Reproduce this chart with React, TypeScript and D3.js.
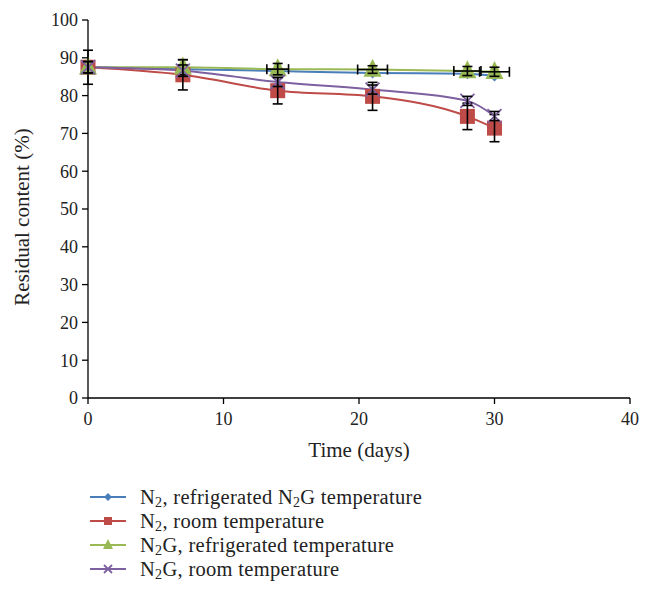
import React from "react";
import * as d3 from "d3";

const days = [0, 7, 14, 21, 28, 30];
const n2Refrig = [87.5, 87.0, 86.5, 86.0, 85.8, 85.2];
const n2Room = [87.5, 85.5, 81.3, 79.8, 74.5, 71.4];
const n2gRefrig = [87.5, 87.5, 87.0, 86.9, 86.5, 86.3];
const n2gRoom = [87.5, 86.6, 83.6, 81.6, 78.6, 74.6];

const n2RefrigErr = [0.5, 0.5, 0.5, 0.5, 0.5, 0.5];
const n2RoomErr = [4.5, 4.0, 3.5, 3.7, 3.5, 3.6];
const n2gRefrigErr = [1.5, 2.0, 1.5, 1.0, 1.2, 1.2];
const n2gRoomErr = [1.5, 1.5, 1.2, 1.2, 1.2, 1.2];
const n2gRefrigXErr = [0, 0, 0.8, 1.1, 1.0, 1.1];

const xTicks = [0, 10, 20, 30, 40];
const yTicks = [0, 10, 20, 30, 40, 50, 60, 70, 80, 90, 100];

const W = 653;
const H = 608;
const font = "'Liberation Serif', 'DejaVu Serif', serif";

type Series = {
  name: string;
  label: React.ReactNode;
  values: number[];
  err: number[];
  xerr?: number[];
  color: string;
  marker: "diamond" | "square" | "triangle" | "x";
};

const sub = (t: string) => (
  <tspan baselineShift="-3" fontSize="14">{t}</tspan>
);

const series: Series[] = [
  {
    name: "n2r",
    label: (
      <>
        N{sub("2")}
        <tspan>, refrigerated N</tspan>
        {sub("2")}
        <tspan>G temperature</tspan>
      </>
    ),
    values: n2Refrig,
    err: n2RefrigErr,
    color: "#4a7ebb",
    marker: "diamond",
  },
  {
    name: "n2room",
    label: (
      <>
        N{sub("2")}
        <tspan>, room temperature</tspan>
      </>
    ),
    values: n2Room,
    err: n2RoomErr,
    color: "#be4b48",
    marker: "square",
  },
  {
    name: "n2gr",
    label: (
      <>
        N{sub("2")}
        <tspan>G, refrigerated temperature</tspan>
      </>
    ),
    values: n2gRefrig,
    err: n2gRefrigErr,
    xerr: n2gRefrigXErr,
    color: "#98b954",
    marker: "triangle",
  },
  {
    name: "n2groom",
    label: (
      <>
        N{sub("2")}
        <tspan>G, room temperature</tspan>
      </>
    ),
    values: n2gRoom,
    err: n2gRoomErr,
    color: "#7d60a0",
    marker: "x",
  },
];

function Marker({ type, cx, cy, color, size }: { type: string; cx: number; cy: number; color: string; size: number }) {
  const s = size;
  if (type === "square")
    return <rect x={cx - s / 2} y={cy - s / 2} width={s} height={s} fill={color} />;
  if (type === "diamond")
    return (
      <path
        d={`M${cx},${cy - s / 2}L${cx + s / 2},${cy}L${cx},${cy + s / 2}L${cx - s / 2},${cy}Z`}
        fill={color}
      />
    );
  if (type === "triangle")
    return (
      <path
        d={`M${cx},${cy - s * 0.6}L${cx + s / 2},${cy + s * 0.4}L${cx - s / 2},${cy + s * 0.4}Z`}
        fill={color}
      />
    );
  return (
    <path
      d={`M${cx - s / 2},${cy - s / 2}L${cx + s / 2},${cy + s / 2}M${cx + s / 2},${cy - s / 2}L${cx - s / 2},${cy + s / 2}`}
      stroke={color}
      strokeWidth={1.8}
      fill="none"
    />
  );
}

const markerSize: Record<string, number> = { square: 15, diamond: 11, triangle: 18, x: 14 };

export default function App() {
  const left = 88;
  const right = 630;
  const top = 20;
  const bottom = 398;
  const x = d3.scaleLinear().domain([0, 40]).range([left, right]);
  const y = d3.scaleLinear().domain([0, 100]).range([bottom, top]);
  const line = d3
    .line<number>()
    .x((_, i) => x(days[i]))
    .y((v) => y(v))
    .curve(d3.curveMonotoneX);

  return (
    <svg width={W} height={H} style={{ position: "absolute", left: 0, top: 0 }} fontFamily={font}>
      <rect width={W} height={H} fill="#fff" />
      {series.map((s) => (
        <path key={s.name + "l"} d={line(s.values) || ""} fill="none" stroke={s.color} strokeWidth={2} />
      ))}
      {series.map((s) => (
        <g key={s.name}>
          {s.values.map((v, i) => {
            const cx = x(days[i]);
            const cy = y(v);
            const e = s.err[i];
            const xe = s.xerr ? s.xerr[i] : 0;
            return (
              <g key={i}>
                <Marker type={s.marker} cx={cx} cy={cy} color={s.color} size={markerSize[s.marker]} />
                <g stroke="#000" strokeWidth={1.6}>
                  <line x1={cx} x2={cx} y1={y(v - e)} y2={y(v + e)} />
                  <line x1={cx - 5} x2={cx + 5} y1={y(v - e)} y2={y(v - e)} />
                  <line x1={cx - 5} x2={cx + 5} y1={y(v + e)} y2={y(v + e)} />
                  {xe > 0 && (
                    <>
                      <line x1={x(days[i] - xe)} x2={x(days[i] + xe)} y1={cy} y2={cy} />
                      <line x1={x(days[i] - xe)} x2={x(days[i] - xe)} y1={cy - 5} y2={cy + 5} />
                      <line x1={x(days[i] + xe)} x2={x(days[i] + xe)} y1={cy - 5} y2={cy + 5} />
                    </>
                  )}
                </g>
              </g>
            );
          })}
        </g>
      ))}
      <g stroke="#000" strokeWidth={1.3}>
        <line x1={left} x2={left} y1={top} y2={bottom} />
        <line x1={left} x2={right} y1={bottom} y2={bottom} />
        {yTicks.map((t) => (
          <line key={"yt" + t} x1={left - 6} x2={left} y1={y(t)} y2={y(t)} />
        ))}
        {xTicks.map((t) => (
          <line key={"xt" + t} x1={x(t)} x2={x(t)} y1={bottom} y2={bottom + 6} />
        ))}
      </g>
      <g fontSize="18" fill="#222">
        {yTicks.map((t) => (
          <text key={"yl" + t} x={left - 10} y={y(t)} dy="0.35em" textAnchor="end">
            {t}
          </text>
        ))}
        {xTicks.map((t) => (
          <text key={"xl" + t} x={x(t)} y={bottom + 27} textAnchor="middle">
            {t}
          </text>
        ))}
      </g>
      <g fontSize="21" fill="#222">
        <text x={x(20)} y={457} textAnchor="middle">
          Time (days)
        </text>
        <text transform={`translate(22, 217) rotate(-90)`} dy="0.35em" textAnchor="middle">
          Residual content (%)
        </text>
      </g>
      <g fontSize="20.5" fill="#222" letterSpacing="0.3">
        {series.map((s, i) => {
          const ly = 497 + i * 24;
          return (
            <g key={s.name + "lg"}>
              <line x1={90} x2={126} y1={ly} y2={ly} stroke={s.color} strokeWidth={2} />
              <Marker type={s.marker} cx={108} cy={ly} color={s.color} size={s.marker === "x" ? 8 : s.marker === "triangle" ? 10 : 8} />
              <text x={140} y={ly} dy="0.33em">
                {s.label}
              </text>
            </g>
          );
        })}
      </g>
    </svg>
  );
}
